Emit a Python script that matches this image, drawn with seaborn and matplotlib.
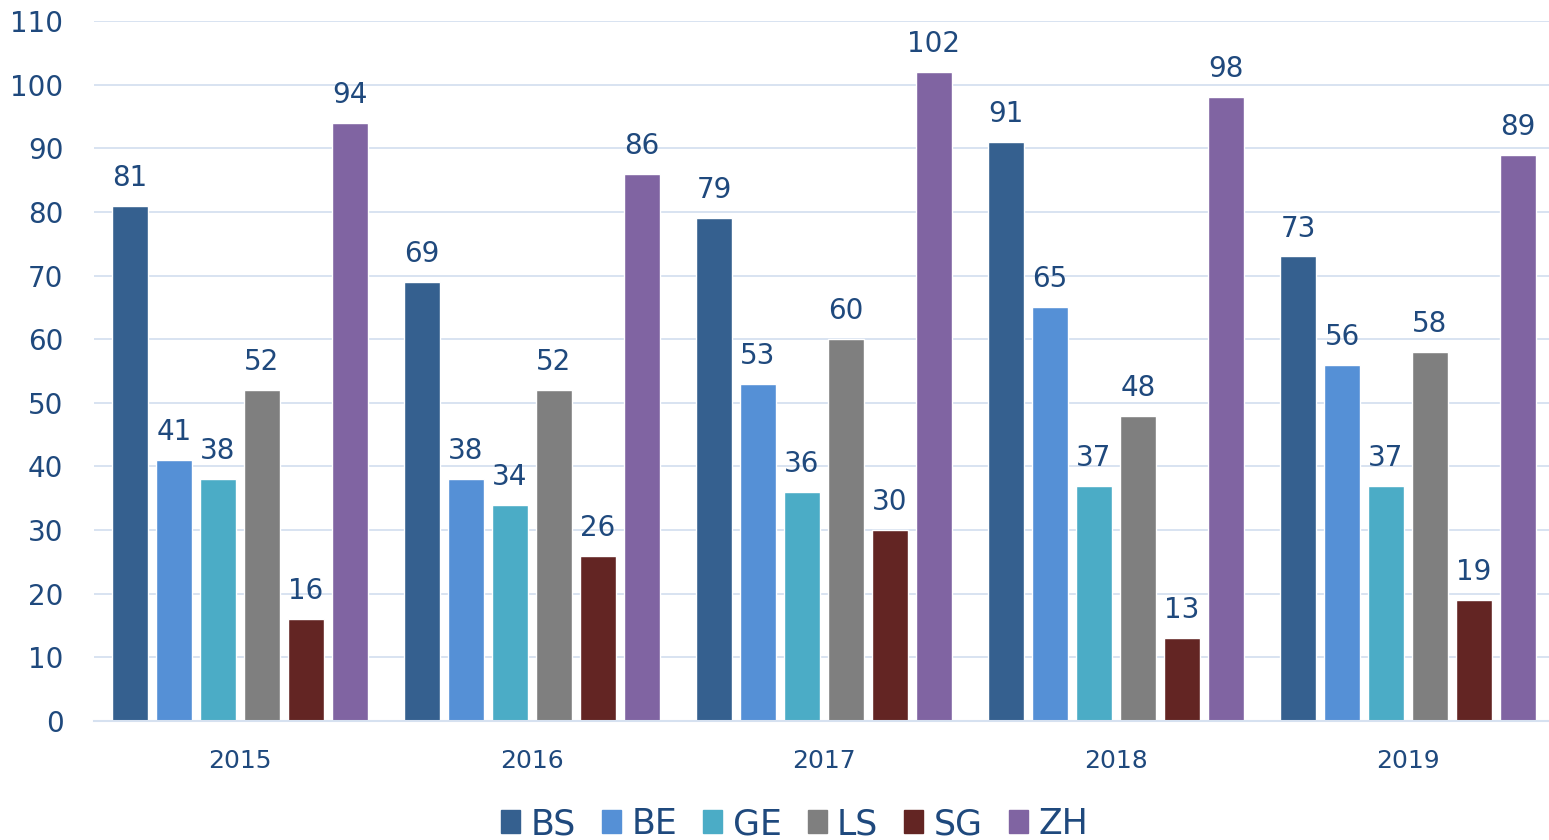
import pandas as pd
import numpy as np
import matplotlib
matplotlib.use("Agg")
import matplotlib.pyplot as plt
import seaborn as sns

# data
years = ["2015", "2016", "2017", "2018", "2019"]
cantons = ["BS", "BE", "GE", "LS", "SG", "ZH"]
bs = [81, 69, 79, 91, 73]
be = [41, 38, 53, 65, 56]
ge = [38, 34, 36, 37, 37]
ls = [52, 52, 60, 48, 58]
sg = [16, 26, 30, 13, 19]
zh = [94, 86, 102, 98, 89]

colors = ["#35608F", "#5590D6", "#4BACC6", "#7F7F7F", "#632523", "#8064A2"]
text_col = "#1F497D"
grid_col = "#D6E1F0"

# long table for seaborn
series = [bs, be, ge, ls, sg, zh]
rows = []
for name, vals in zip(cantons, series):
    for yr, v in zip(years, vals):
        rows.append({"Jahr": yr, "Kanton": name, "Wert": v})
df = pd.DataFrame(rows)

sns.set_theme(style="white")
plt.rcParams["font.family"] = ["DejaVu Sans"]

fig = plt.figure(figsize=(15.49, 8.4), dpi=100)
ax = fig.add_axes([94 / 1549, 119 / 840, 1460 / 1549, 700 / 840])

sns.barplot(data=df, x="Jahr", y="Wert", hue="Kanton", order=years,
            hue_order=cantons, palette=colors, width=0.904, gap=0.2,
            saturation=1, ax=ax, legend=False)

for cont in ax.containers:
    ax.bar_label(cont, padding=10, fontsize=20, color=text_col)

ax.set_xlim(-0.5, 4.5)
ax.set_ylim(0, 110)
ax.set_yticks(np.arange(0, 111, 10))
ax.yaxis.grid(True, color=grid_col, linewidth=1.3)
ax.set_axisbelow(True)
for s in ["top", "right", "left"]:
    ax.spines[s].set_visible(False)
ax.spines["bottom"].set_color(grid_col)
ax.spines["bottom"].set_linewidth(1.5)
ax.set_xlabel("")
ax.set_ylabel("")
ax.tick_params(axis="y", labelsize=20, colors=text_col, length=0, pad=22)
ax.tick_params(axis="x", labelsize=18, colors=text_col, length=0, pad=20)

handles = [plt.Rectangle((0, 0), 1, 1, color=c) for c in colors]
fig.legend(handles, cantons, loc="center", bbox_to_anchor=(0.513, 0.019),
           ncol=6, frameon=False, fontsize=25, labelcolor=text_col,
           handlelength=0.55, handleheight=0.65, handletextpad=0.3,
           columnspacing=0.75)

fig.savefig("out.png", dpi=100)
